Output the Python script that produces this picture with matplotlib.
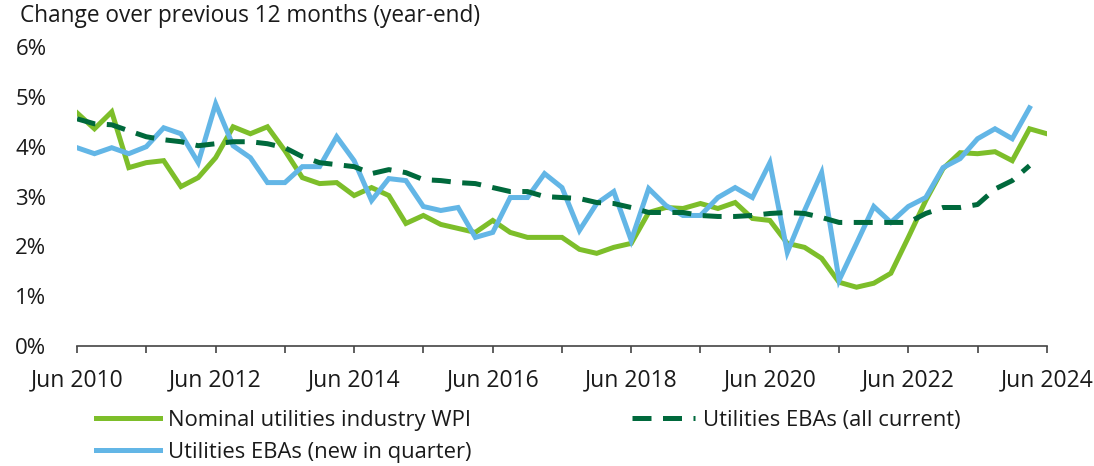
import pandas as pd
import matplotlib.pyplot as plt
import matplotlib.dates as mdates

plt.rcParams['font.family'] = ['Open Sans', 'DejaVu Sans']

# Quarterly observations, Jun 2010 onwards (% change over previous 12 months)
wpi = [4.68, 4.36, 4.70, 3.58, 3.68, 3.72, 3.20, 3.38, 3.78, 4.40,
       4.26, 4.40, 3.92, 3.38, 3.26, 3.28, 3.02, 3.18, 3.02, 2.46,
       2.62, 2.44, 2.36, 2.28, 2.52, 2.28, 2.18, 2.18, 2.18, 1.94,
       1.86, 1.98, 2.06, 2.68, 2.78, 2.76, 2.86, 2.76, 2.88, 2.56,
       2.52, 2.06, 1.98, 1.76, 1.28, 1.18, 1.26, 1.46, 2.18, 2.92,
       3.56, 3.88, 3.86, 3.90, 3.72, 4.36, 4.26]

eba_new = [3.98, 3.86, 3.98, 3.86, 4.00, 4.38, 4.26, 3.68, 4.86, 4.02,
           3.78, 3.28, 3.28, 3.60, 3.60, 4.20, 3.72, 2.92, 3.36, 3.32,
           2.80, 2.72, 2.78, 2.18, 2.28, 2.98, 2.98, 3.46, 3.18, 2.32,
           2.86, 3.10, 2.12, 3.16, 2.82, 2.62, 2.62, 2.98, 3.18, 2.98,
           3.68, 1.88, 2.72, 3.48, 1.32, 2.06, 2.80, 2.48, 2.80, 2.98,
           3.58, 3.76, 4.16, 4.36, 4.16, 4.78]

eba_all = [4.56, 4.46, 4.44, 4.32, 4.20, 4.14, 4.10, 4.02, 4.06, 4.10,
           4.10, 4.06, 3.98, 3.80, 3.68, 3.64, 3.60, 3.46, 3.54, 3.48,
           3.34, 3.32, 3.28, 3.26, 3.18, 3.10, 3.10, 3.00, 2.98, 2.96,
           2.88, 2.86, 2.78, 2.68, 2.68, 2.68, 2.62, 2.60, 2.60, 2.62,
           2.66, 2.68, 2.66, 2.58, 2.48, 2.48, 2.48, 2.48, 2.48, 2.66,
           2.78, 2.78, 2.84, 3.15, 3.32, 3.62]

quarters = pd.date_range('2010-06-01', periods=len(wpi), freq='3MS')

fig = plt.figure(figsize=(10.94, 4.66), dpi=100)
ax = fig.add_axes([0.0704, 0.2575, 0.8866, 0.6415])

ax.plot(quarters, wpi, color='#7dbe2a', lw=3.6, solid_joinstyle='miter',
        label='Nominal utilities industry WPI')
ax.plot(quarters[:len(eba_new)], eba_new, color='#63b6e6', lw=3.6,
        solid_joinstyle='miter', label='Utilities EBAs (new in quarter)')
ax.plot(quarters[:len(eba_all)], eba_all, color='#00693c', lw=3.6,
        ls=(0, (3.8, 2.3)), label='Utilities EBAs (all current)')

ax.set_ylim(0, 6)
ax.set_yticks(range(0, 7))
ax.set_yticklabels([f'{v}%' for v in range(0, 7)])
ax.set_xlim(pd.Timestamp('2010-06-01'), pd.Timestamp('2024-06-01'))

ax.xaxis.set_major_locator(mdates.MonthLocator(bymonth=6, interval=1))
ax.xaxis.set_major_formatter(plt.FuncFormatter(
    lambda x, pos: mdates.num2date(x).strftime('Jun %Y')
    if mdates.num2date(x).year % 2 == 0 else ''))

for s in ['top', 'right', 'left']:
    ax.spines[s].set_visible(False)
ax.spines['bottom'].set_color('#444444')
ax.spines['bottom'].set_linewidth(1.2)
ax.tick_params(axis='x', direction='out', length=5, width=1.2,
               color='#444444', labelsize=16.5, pad=11, labelcolor='#1a1a1a')
ax.tick_params(axis='y', length=0, labelsize=16, pad=22, labelcolor='#1a1a1a')

fig.text(0.018, 0.965, 'Change over previous 12 months (year-end)',
         fontsize=16.3, color='#1a1a1a', va='center', ha='left')

fig.legend(loc='upper left', bbox_to_anchor=(0.070, 0.163), ncol=2,
           frameon=False, fontsize=15.8, handlelength=2.9, handletextpad=0.36,
           columnspacing=7.3, labelspacing=0.5, labelcolor='#1a1a1a')

fig.savefig('out.png', dpi=100)
